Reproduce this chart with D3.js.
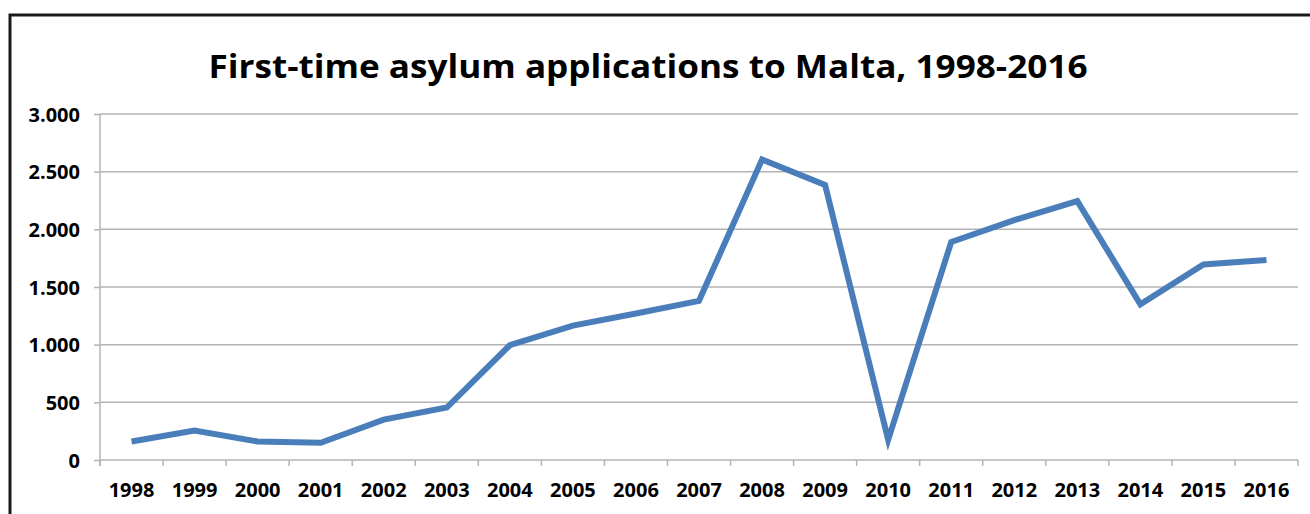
<!DOCTYPE html>
<html>
<head>
<meta charset="utf-8">
<script src="https://cdn.jsdelivr.net/npm/d3@7"></script>
<style>
  body { margin: 0; background: #fff; }
  svg { display: block; }
  .tick text { font-family: "Open Sans", sans-serif; font-weight: bold; fill: #000; }
</style>
</head>
<body>
<svg></svg>
<script>
const years = ["1998","1999","2000","2001","2002","2003","2004","2005","2006","2007",
               "2008","2009","2010","2011","2012","2013","2014","2015","2016"]
const applications = [160, 255, 160, 150, 350, 455, 995, 1165, 1270, 1380,
                      2605, 2385, 175, 1890, 2080, 2245, 1350, 1695, 1735]
const yTicks = [0, 500, 1000, 1500, 2000, 2500, 3000]
const title = "First-time asylum applications to Malta, 1998-2016"

const width = 1310
const height = 514
const margin = ({top: 114, right: 12, bottom: 54, left: 100})

const svg = d3.select("svg")
  .attr("width", width)
  .attr("height", height)
  .attr("viewBox", [0, 0, width, height])

// 外框
svg.append("rect")
  .attr("x", 10).attr("y", 15)
  .attr("width", width + 20).attr("height", height + 20)
  .attr("fill", "none")
  .attr("stroke", "#1a1a1a")
  .attr("stroke-width", 3)

const x = d3.scaleBand()
  .domain(years)
  .range([margin.left, width - margin.right])

const y = d3.scaleLinear()
  .domain([0, 3000])
  .range([height - margin.bottom, margin.top])

// 网格线
svg.append("g")
  .selectAll("line")
  .data(yTicks.slice(1))
  .join("line")
  .attr("x1", margin.left).attr("x2", width - margin.right)
  .attr("y1", d => y(d)).attr("y2", d => y(d))
  .attr("stroke", "#b3b3b3")
  .attr("stroke-width", 1.5)

// y 轴
svg.append("g")
  .attr("transform", `translate(${margin.left},0)`)
  .call(d3.axisLeft(y).tickValues(yTicks).tickSize(6).tickPadding(14)
    .tickFormat(d => d3.format(",")(d).replace(",", ".")))
  .call(g => g.select(".domain").attr("stroke", "#b3b3b3").attr("stroke-width", 1.5)
    .attr("d", `M0,${y(3000)}V${y(0) + 6}`))
  .call(g => g.selectAll(".tick line").attr("stroke", "#b3b3b3").attr("stroke-width", 1.5))
  .call(g => g.selectAll(".tick text").attr("font-size", 20).attr("dy", "0.36em"))

// x 轴
const xAxis = svg.append("g")
  .attr("transform", `translate(0,${y(0)})`)
  .call(d3.axisBottom(x).tickSize(0).tickPadding(23).tickSizeOuter(0))
  .call(g => g.select(".domain").attr("stroke", "#b3b3b3").attr("stroke-width", 1.5)
    .attr("d", `M${margin.left},0H${width - margin.right}`))
  .call(g => g.selectAll(".tick text").attr("font-size", 20))

xAxis.append("g")
  .selectAll("line")
  .data(years.concat(["end"]))
  .join("line")
  .attr("x1", (d, i) => margin.left + i * x.step())
  .attr("x2", (d, i) => margin.left + i * x.step())
  .attr("y1", 0).attr("y2", 6)
  .attr("stroke", "#b3b3b3")
  .attr("stroke-width", 1.5)

// 折线
const line = d3.line()
  .x((d, i) => x(years[i]) + x.bandwidth() / 2)
  .y(d => y(d))

svg.append("path")
  .datum(applications)
  .attr("d", line)
  .attr("fill", "none")
  .attr("stroke", "#4a7ebb")
  .attr("stroke-width", 6)
  .attr("stroke-linejoin", "miter")

// 标题
svg.append("text")
  .attr("x", 648)
  .attr("y", 78)
  .attr("text-anchor", "middle")
  .attr("font-family", "Open Sans, sans-serif")
  .attr("font-weight", "bold")
  .attr("font-size", 33)
  .attr("textLength", 879)
  .attr("lengthAdjust", "spacingAndGlyphs")
  .attr("fill", "#000")
  .text(title)
</script>
</body>
</html>
